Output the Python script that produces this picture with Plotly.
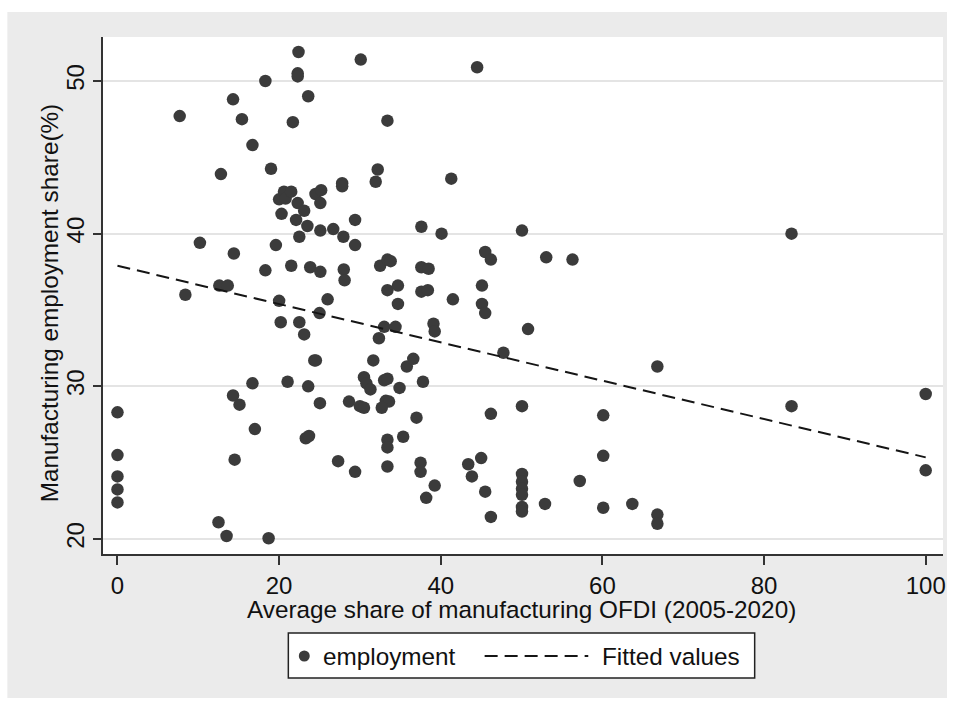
import plotly.graph_objects as go

# Average share of manufacturing OFDI (2005-2020), per region
ofdi_share = [
    0, 0, 0, 0, 0,
    7.7, 8.4, 10.2, 12.5, 12.6, 12.8, 13.5, 13.65, 14.3, 14.4, 14.3, 15.1, 14.5,
    15.4, 16.7, 16.7, 17.0, 18.3, 18.3, 18.7, 19.0, 19.6,
    20.0, 20.2, 20.0, 20.3, 20.6, 20.8, 21.5, 21.05, 21.5, 21.7, 22.1, 22.3,
    22.3, 22.3, 22.4, 22.5, 22.5, 23.1, 23.1, 23.3, 23.7, 23.5, 23.6, 23.6,
    23.85, 24.35, 24.55, 24.5, 25.0, 25.05, 25.1, 25.1, 25.1, 25.2, 26.0,
    26.7, 27.3, 27.8, 27.8, 27.95, 28.0, 28.1, 28.65, 29.4, 29.4, 29.4,
    30.1, 30.0, 30.5, 30.5, 30.8, 31.3, 31.65, 32.2, 31.95, 32.5,
    33.4, 33.8, 32.35, 33.0, 34.4, 33.0, 33.4, 33.2, 33.6, 32.7, 33.4,
    33.4, 34.7, 34.7, 33.4, 33.4, 33.4, 34.9, 35.35, 35.8, 36.6, 37.0,
    37.6, 37.6, 38.5, 37.6, 38.4, 37.8, 37.5, 37.5, 38.2, 39.1, 39.25, 39.25,
    40.1, 41.3, 41.5, 43.4, 45.0, 43.85, 44.5, 45.1, 45.1, 45.5, 45.5, 46.2,
    45.5, 46.2, 46.2, 47.75, 50.05, 50.05, 50.05, 50.05, 50.05, 50.05, 50.05,
    50.05, 50.8, 52.9, 53.05, 56.3, 57.2, 60.1, 60.1, 60.1, 63.7, 66.8, 66.8,
    66.8, 83.4, 83.4, 100, 100,
]

# Manufacturing employment share (%), same order
employment = [
    28.3, 25.5, 24.1, 23.25, 22.4,
    47.7, 36.0, 39.4, 21.1, 36.6, 43.9, 20.2, 36.6, 48.8, 38.7, 29.4, 28.8, 25.2,
    47.5, 45.8, 30.2, 27.2, 50.0, 37.6, 20.05, 44.25, 39.25,
    35.6, 34.2, 42.25, 41.3, 42.75, 42.3, 42.75, 30.3, 37.9, 47.3, 40.9, 42.0,
    50.5, 50.3, 51.9, 39.8, 34.2, 33.4, 41.5, 26.6, 26.75, 40.5, 49.0, 30.0,
    37.8, 31.7, 31.7, 42.6, 34.8, 28.9, 37.5, 40.2, 42.0, 42.85, 35.7,
    40.3, 25.1, 43.3, 43.1, 39.8, 37.65, 36.95, 29.0, 40.9, 39.25, 24.4,
    51.4, 28.7, 28.6, 30.6, 30.2, 29.8, 31.7, 44.2, 43.4, 37.9,
    38.3, 38.2, 33.15, 33.9, 33.9, 30.4, 30.5, 29.05, 29.0, 28.6, 47.4,
    36.3, 36.6, 35.4, 26.5, 26.0, 24.75, 29.9, 26.7, 31.3, 31.8, 27.95,
    40.45, 37.8, 37.7, 36.2, 36.3, 30.3, 25.0, 24.4, 22.7, 34.1, 33.6, 23.5,
    40.0, 43.6, 35.7, 24.9, 25.3, 24.1, 50.9, 36.6, 35.4, 34.8, 38.8, 38.3,
    23.1, 28.2, 21.45, 32.2, 40.2, 28.7, 24.26, 23.75, 23.3, 22.9, 22.1,
    21.8, 33.75, 22.3, 38.45, 38.3, 23.8, 28.1, 25.45, 22.05, 22.3, 31.3, 21.6,
    21.0, 40.0, 28.7, 29.5, 24.5,
]

# Fitted values line, at the ends of the OFDI range
fit_x = [0, 100]
fit_y = [37.9, 25.35]

x_ticks = [0, 20, 40, 60, 80, 100]
y_ticks = [20, 30, 40, 50]

FONT = "Liberation Sans, Arial, sans-serif"
FS = 24.3
BG = "#ebebeb"
DOT = "#3b3b3b"
DASH = "13px,7px"

fig = go.Figure()
fig.add_trace(go.Scatter(
    x=ofdi_share, y=employment, mode="markers", name="employment",
    marker=dict(size=12.5, color=DOT, line=dict(width=0)),
    showlegend=False, hoverinfo="x+y",
))
fig.add_trace(go.Scatter(
    x=fit_x, y=fit_y, mode="lines", name="Fitted values",
    line=dict(color="#151515", width=2, dash=DASH),
    showlegend=False,
))

fig.update_layout(
    width=958, height=703,
    margin=dict(l=103, r=12, t=37, b=149),
    paper_bgcolor=BG, plot_bgcolor="white",
    font=dict(family=FONT, size=FS, color="#111111"),
    xaxis=dict(
        range=[-1.79, 102.14], tickvals=x_ticks, ticks="outside", ticklen=9,
        tickwidth=1.5, tickcolor="#333333", showgrid=False, zeroline=False,
        showline=True, linecolor="#333333", linewidth=1.5,
        tickfont=dict(size=24),
    ),
    yaxis=dict(
        range=[19.02, 52.88], tickvals=y_ticks, ticks="outside", ticklen=8,
        tickwidth=1.5, tickcolor="#333333", tickangle=-90,
        showgrid=True, gridcolor="#e4e4e4", gridwidth=2, zeroline=False,
        showline=True, linecolor="#333333", linewidth=1.5,
        tickfont=dict(size=24),
    ),
)

# Pixel helpers for the paper coordinate system (plot area 843 x 517)
def px(x):
    return (x - 103) / 843

def py(y):
    return (554 - y) / 517

# Axis titles
fig.add_annotation(
    text="Average share of manufacturing OFDI (2005-2020)", xref="paper", yref="paper",
    x=px(523), y=py(609), showarrow=False, xanchor="center", yanchor="middle",
    font=dict(size=FS),
)
fig.add_annotation(
    text="Manufacturing employment share(%)", xref="paper", yref="paper",
    x=px(50), y=py(303), showarrow=False, xanchor="center", yanchor="middle",
    textangle=-90, font=dict(size=FS),
)

shapes = []
# White frame around the grey graph region
shapes += [
    dict(type="rect", xref="paper", yref="paper", x0=-0.3, x1=px(7), y0=-0.5, y1=1.5,
         fillcolor="white", line=dict(width=0), layer="above"),
    dict(type="rect", xref="paper", yref="paper", x0=px(950), x1=1.3, y0=-0.5, y1=1.5,
         fillcolor="white", line=dict(width=0), layer="above"),
    dict(type="rect", xref="paper", yref="paper", x0=-0.3, x1=1.3, y0=py(12), y1=1.5,
         fillcolor="white", line=dict(width=0), layer="above"),
    dict(type="rect", xref="paper", yref="paper", x0=-0.3, x1=1.3, y0=-0.5, y1=py(698),
         fillcolor="white", line=dict(width=0), layer="above"),
]

# Legend box
leg_y = 656
shapes.append(dict(type="rect", xref="paper", yref="paper",
                   x0=px(289), x1=px(757), y0=py(678), y1=py(633),
                   fillcolor="white", line=dict(color="#222222", width=1.5), layer="above"))
r = 5.5
shapes.append(dict(type="circle", xref="paper", yref="paper",
                   x0=px(305 - r), x1=px(305 + r), y0=py(leg_y + r), y1=py(leg_y - r),
                   fillcolor=DOT, line=dict(width=0), layer="above"))
shapes.append(dict(type="line", xref="paper", yref="paper",
                   x0=px(486), x1=px(590), y0=py(leg_y), y1=py(leg_y),
                   line=dict(color="#151515", width=2, dash=DASH), layer="above"))
fig.update_layout(shapes=shapes)

fig.add_annotation(text="employment", xref="paper", yref="paper", x=px(322), y=py(leg_y),
                   showarrow=False, xanchor="left", yanchor="middle", font=dict(size=FS))
fig.add_annotation(text="Fitted values", xref="paper", yref="paper", x=px(602), y=py(leg_y),
                   showarrow=False, xanchor="left", yanchor="middle", font=dict(size=FS))

fig.write_html("out.html")
